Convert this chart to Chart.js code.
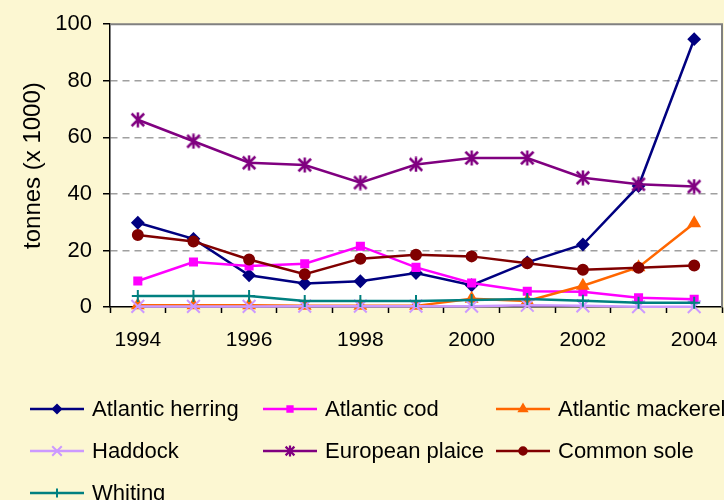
<!DOCTYPE html>
<html>
<head>
<meta charset="utf-8">
<script src="https://cdn.jsdelivr.net/npm/chart.js@4/dist/chart.umd.min.js"></script>
<style>
  html, body { margin: 0; padding: 0; background: #fcf7d2; }
  #wrap { width: 724px; height: 500px; position: relative; }
</style>
</head>
<body>
<div id="wrap"><canvas id="fishChart" width="724" height="500"></canvas></div>
<script>
// landings, tonnes x 1000
const years = ["1994", "1995", "1996", "1997", "1998", "1999", "2000", "2001", "2002", "2003", "2004"];
const yTicks = [0, 20, 40, 60, 80, 100];

const herring  = [29.8, 24.1, 11.2, 8.3, 9.1, 12.0, 7.7, 15.8, 22.1, 42.8, 94.7];
const cod      = [9.2, 15.9, 14.5, 15.3, 21.5, 14.0, 8.5, 5.6, 5.4, 3.3, 2.7];
const mackerel = [0.6, 0.6, 0.6, 0.4, 0.4, 0.4, 2.9, 2.1, 7.5, 14.1, 29.6];
const haddock  = [0.2, 0.2, 0.2, 0.3, 0.3, 0.3, 0.3, 0.6, 0.4, 0.1, 0.1];
const plaice   = [66.2, 58.6, 51.0, 50.2, 44.0, 50.4, 52.7, 52.7, 45.7, 43.4, 42.6];
const sole     = [25.5, 23.2, 16.8, 11.6, 17.1, 18.5, 17.9, 15.5, 13.2, 13.9, 14.7];
const whiting  = [3.9, 3.9, 3.9, 2.1, 2.1, 2.1, 2.5, 2.8, 2.2, 1.5, 1.5];

const FONT = "'Liberation Sans', Arial, sans-serif";

// excel style asterisk: an X with a vertical bar
function makeStar(size, color, lw) {
    const c = document.createElement("canvas");
    c.width = size;
    c.height = size;
    const g = c.getContext("2d");
    const m = lw / 2 + 0.5;
    g.strokeStyle = color;
    g.lineWidth = lw;
    g.beginPath();
    g.moveTo(m, m); g.lineTo(size - m, size - m);
    g.moveTo(size - m, m); g.lineTo(m, size - m);
    g.moveTo(size / 2, 0.5); g.lineTo(size / 2, size - 0.5);
    g.stroke();
    return c;
}

function series(label, data, color, style, radius) {
    return {
        label,
        data,
        borderColor: color,
        backgroundColor: color,
        pointBackgroundColor: color,
        pointBorderColor: color,
        pointStyle: style,
        pointRadius: radius,
        pointHoverRadius: radius,
        pointBorderWidth: 2,
        borderWidth: 2.5,
        tension: 0,
        clip: false,
    };
}

const plaiceSet = series("European plaice", plaice, "#800080", makeStar(16, "#800080", 2.5), 8);
plaiceSet.legendStyle = makeStar(12, "#800080", 2.2);

const datasets = [
    series("Atlantic herring", herring, "#000080", "rectRot", 5.5),
    series("Atlantic cod", cod, "#ff00ff", "rect", 5),
    series("Atlantic mackerel", mackerel, "#ff6600", "triangle", 6),
    series("Haddock", haddock, "#cc99ff", "crossRot", 9),
    plaiceSet,
    series("Common sole", sole, "#800000", "circle", 5),
    series("Whiting", whiting, "#008080", "cross", 6),
];
// later series sit on top, like the spreadsheet original
datasets.forEach((ds, i) => { ds.order = datasets.length - i; });

// white plot area + grey frame on top/right
const plotFrame = {
    id: "plotFrame",
    beforeDraw(chart) {
        const { ctx, chartArea: a } = chart;
        ctx.save();
        ctx.fillStyle = "#ffffff";
        ctx.fillRect(a.left, a.top, a.right - a.left, a.bottom - a.top);
        ctx.restore();
    },
    beforeDatasetsDraw(chart) {
        const { ctx, chartArea: a } = chart;
        ctx.save();
        ctx.strokeStyle = "#808080";
        ctx.lineWidth = 2;
        ctx.beginPath();
        ctx.moveTo(a.left, a.top);
        ctx.lineTo(a.right, a.top);
        ctx.lineTo(a.right, a.bottom);
        ctx.stroke();
        ctx.restore();
    }
};

// three-column legend under the plot
const gridLegend = {
    id: "gridLegend",
    afterDraw(chart) {
        const ctx = chart.ctx;
        const colX = [30, 263, 496];
        const rowY = [409, 451, 493];
        ctx.save();
        ctx.font = "22px " + FONT;
        ctx.textBaseline = "middle";
        chart.data.datasets.forEach((ds, i) => {
            const x = colX[i % 3];
            const y = rowY[Math.floor(i / 3)];
            ctx.strokeStyle = ds.borderColor;
            ctx.lineWidth = 2.5;
            ctx.beginPath();
            ctx.moveTo(x, y);
            ctx.lineTo(x + 54, y);
            ctx.stroke();
            ctx.fillStyle = ds.borderColor;
            ctx.lineWidth = 2;
            Chart.helpers.drawPoint(ctx, {
                pointStyle: ds.legendStyle || ds.pointStyle,
                radius: ds.pointRadius * 0.75,
                borderWidth: 2,
                rotation: 0
            }, x + 27, y);
            ctx.fillStyle = "#000";
            ctx.fillText(ds.label, x + 62, y + 1);
        });
        ctx.restore();
    }
};

new Chart(document.getElementById("fishChart"), {
    type: "line",
    data: { labels: years, datasets },
    options: {
        responsive: false,
        animation: false,
        events: [],
        layout: { autoPadding: false, padding: { left: 0, right: 2, top: 22, bottom: 145 } },
        plugins: { legend: { display: false }, tooltip: { enabled: false } },
        scales: {
            x: {
                type: "category",
                offset: true,
                afterFit: (s) => { s.height = 48; s.paddingLeft = 0; s.paddingRight = 0; },
                grid: {
                    offset: true,
                    drawOnChartArea: false,
                    drawTicks: true,
                    tickLength: 6,
                    tickColor: "#000",
                    tickWidth: 1.5
                },
                border: { color: "#000", width: 1.5 },
                ticks: {
                    autoSkip: false,
                    maxRotation: 0,
                    padding: 15,
                    color: "#000",
                    font: { family: FONT, size: 21 },
                    callback: (v, i) => (i % 2 === 0 ? years[i] : "")
                }
            },
            y: {
                min: 0,
                max: 100,
                afterFit: (s) => { s.width = 110; },
                afterBuildTicks: (s) => { s.ticks = yTicks.map(v => ({ value: v })); },
                grid: {
                    color: (c) => (c.tick && (c.tick.value === 0 || c.tick.value === 100) ? "rgba(0,0,0,0)" : "#a0a0a0"),
                    lineWidth: 1.5,
                    tickColor: "#000",
                    tickLength: 7,
                    tickWidth: 1.5,
                    tickBorderDash: []
                },
                border: { color: "#000", width: 1.5, dash: [7, 5] },
                ticks: {
                    padding: 11,
                    color: "#000",
                    font: { family: FONT, size: 22 }
                },
                title: {
                    display: true,
                    text: "tonnes (x 1000)",
                    color: "#000",
                    font: { family: FONT, size: 24 },
                    padding: { top: 19, bottom: 0 }
                }
            }
        }
    },
    plugins: [plotFrame, gridLegend]
});
</script>
</body>
</html>
